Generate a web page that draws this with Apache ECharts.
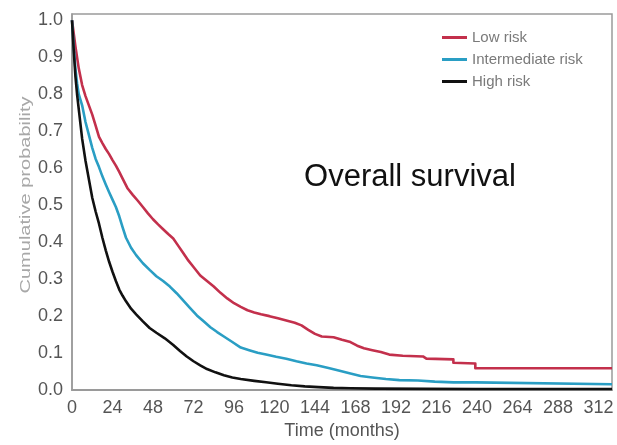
<!DOCTYPE html>
<html>
<head>
<meta charset="utf-8">
<script src="https://cdn.jsdelivr.net/npm/echarts@6/dist/echarts.min.js"></script>
<style>
  html, body { margin: 0; padding: 0; background: #fff; }
  #chart { width: 617px; height: 445px; }
</style>
</head>
<body>
<div id="chart"></div>
<script>
// Kaplan-Meier overall survival by risk group: [months, cumulative probability]
// Repeated months mark the larger vertical drops of the late curve.
const lowRisk = [
  [0,1.0],[2,0.93],[4,0.87],[6,0.825],[8,0.795],[10,0.77],[12,0.745],[14,0.715],[16,0.685],
  [18,0.668],[20,0.652],[22,0.638],[24,0.622],[26,0.607],[28,0.59],[30,0.572],[33,0.545],
  [36,0.528],[39,0.512],[42,0.495],[45,0.478],[48,0.462],[51,0.448],[54,0.435],[57,0.422],
  [60,0.41],[63,0.39],[66,0.37],[69,0.35],[72,0.333],[76,0.31],[80,0.295],[84,0.28],
  [88,0.263],[92,0.248],[96,0.235],[100,0.225],[104,0.216],[108,0.21],[112,0.205],[117,0.2],
  [122,0.194],[127,0.188],[132,0.182],[136,0.175],[140,0.163],[144,0.152],[148,0.145],
  [155,0.143],[160,0.136],[165,0.13],[169,0.12],[173,0.113],[178,0.108],[183,0.103],
  [188,0.096],[196,0.093],[208,0.091],[210,0.085],[226,0.083],[226,0.074],[239,0.072],
  [239,0.059],[320,0.059]
];
const intermediateRisk = [
  [0,1.0],[1,0.93],[2,0.87],[3,0.83],[4,0.80],[6,0.77],[8,0.725],[10,0.69],[12,0.655],
  [14,0.625],[16,0.603],[18,0.578],[20,0.556],[22,0.535],[24,0.515],[26,0.495],[28,0.47],
  [30,0.44],[32,0.412],[35,0.385],[38,0.365],[42,0.343],[46,0.325],[50,0.308],[54,0.295],
  [58,0.28],[62,0.262],[66,0.242],[70,0.222],[74,0.202],[78,0.186],[82,0.17],[86,0.157],
  [90,0.145],[95,0.13],[100,0.115],[105,0.108],[110,0.101],[115,0.096],[121,0.09],
  [127,0.085],[133,0.078],[139,0.072],[145,0.067],[152,0.06],[158,0.053],[165,0.045],
  [171,0.038],[178,0.034],[186,0.03],[194,0.027],[205,0.026],[215,0.023],[226,0.021],
  [239,0.021],[239,0.016],[320,0.016]
];
const highRisk = [
  [0,1.0],[1,0.92],[2,0.85],[3,0.8],[4,0.76],[5,0.72],[6,0.68],[8,0.62],[10,0.57],[12,0.52],
  [14,0.483],[16,0.45],[18,0.412],[20,0.378],[22,0.347],[24,0.32],[26,0.295],[28,0.272],
  [30,0.255],[32,0.24],[35,0.22],[38,0.205],[42,0.186],[46,0.168],[50,0.155],[55,0.14],
  [60,0.122],[64,0.106],[68,0.091],[72,0.078],[76,0.067],[80,0.057],[85,0.048],[90,0.04],
  [95,0.034],[100,0.03],[108,0.025],[115,0.021],[122,0.017],[130,0.013],[138,0.01],
  [146,0.008],[155,0.006],[165,0.005],[180,0.004],[239,0.003],[320,0.003]
];
const seriesNames = ['Low risk', 'Intermediate risk', 'High risk'];
const seriesColors = ['#c3304c', '#2a9ec4', '#111111'];

const labelFont = '"Liberation Sans", Arial, sans-serif';

const chart = echarts.init(document.getElementById('chart'), null, { renderer: 'canvas' });

const seriesData = [lowRisk, intermediateRisk, highRisk];

chart.setOption({
  animation: false,
  backgroundColor: '#ffffff',
  grid: {
    left: 72, right: 5, top: 14, bottom: 49,
    show: true, borderColor: '#9a9a9a', borderWidth: 1.5
  },
  legend: {
    orient: 'vertical',
    left: 437, top: 25,
    itemWidth: 25, itemHeight: 3, itemGap: 7,
    icon: 'rect',
    textStyle: { fontFamily: labelFont, fontSize: 15, color: '#7a7a7a' },
    data: seriesNames
  },
  xAxis: {
    type: 'value',
    min: 0, max: 320, interval: 24,
    name: 'Time (months)',
    nameLocation: 'middle',
    nameGap: 30,
    nameTextStyle: { fontFamily: labelFont, fontSize: 18, color: '#555' },
    axisLine: { show: true, lineStyle: { color: '#9a9a9a', width: 2 } },
    axisTick: { show: false },
    splitLine: { show: false },
    axisLabel: { showMaxLabel: false, margin: 9, fontFamily: labelFont, fontSize: 18, color: '#555' }
  },
  yAxis: {
    type: 'value',
    min: 0, max: 1.017, interval: 0.1,
    axisLine: { show: true, lineStyle: { color: '#9a9a9a', width: 1.5 } },
    axisTick: { show: false },
    splitLine: { show: false },
    axisLabel: {
      showMaxLabel: false, margin: 9, fontFamily: labelFont, fontSize: 18, color: '#555',
      formatter: v => v.toFixed(1)
    }
  },
  series: seriesData.map((d, i) => ({
    name: seriesNames[i],
    type: 'line',
    data: d,
    showSymbol: false,
    symbol: 'none',
    color: seriesColors[i],
    lineStyle: { color: seriesColors[i], width: 2.6, join: 'round' },
    z: 2 + i
  })),
  graphic: [
    {
      type: 'text',
      x: 26, y: 195,
      rotation: Math.PI / 2,
      scaleX: 1.43,
      style: {
        text: 'Cumulative probability',
        font: '14px "Liberation Sans", Arial, sans-serif',
        fill: '#a8a8a8',
        align: 'center', verticalAlign: 'middle',
        textAlign: 'center', textVerticalAlign: 'middle'
      }
    },
    {
      type: 'text',
      x: 410, y: 177,
      style: {
        text: 'Overall survival',
        font: '31px "Liberation Sans", Arial, sans-serif',
        fill: '#111',
        align: 'center', verticalAlign: 'middle',
        textAlign: 'center', textVerticalAlign: 'middle'
      }
    }
  ]
});
</script>
</body>
</html>
